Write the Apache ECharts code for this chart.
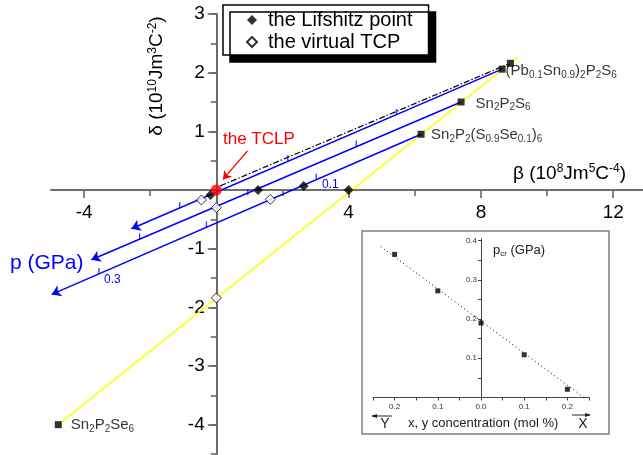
<!DOCTYPE html>
<html>
<head>
<meta charset="utf-8">
<script src="https://cdn.jsdelivr.net/npm/echarts@6/dist/echarts.min.js"></script>
<style>
html, body { margin: 0; padding: 0; background: #fff; }
#chart { width: 643px; height: 455px; }
</style>
</head>
<body>
<div id="chart"></div>
<script>
var FONT = '"Liberation Sans", Arial, sans-serif';
var BLUE = '#0000ff';
var AXIS = '#666666';

// main plot: compounds on the yellow line (beta, delta)
var compoundLabels = [
    '{n|(Pb}{s|0.1}{n|Sn}{s|0.9}{n|)}{s|2}{n|P}{s|2}{n|S}{s|6}',
    '{n|Sn}{s|2}{n|P}{s|2}{n|S}{s|6}',
    '{n|Sn}{s|2}{n|P}{s|2}{n|(S}{s|0.9}{n|Se}{s|0.1}{n|)}{s|6}',
    '{n|Sn}{s|2}{n|P}{s|2}{n|Se}{s|6}'
];
var compoundBeta = [8.64, 7.40, 6.19, -4.78];
var compoundDelta = [2.06, 1.50, 0.95, -4.00];
var extraSquare = [8.89, 2.16];

// yellow line and dash-dot line end points
var yellowLine = [[-4.78, -4.00], [9.11, 2.26]];
var dashDotLine = [[0.12, 0.07], [8.80, 2.14]];

// blue pressure lines: start (p = 0) and arrow end
var pLineStart = [[8.64, 2.06], [7.40, 1.50], [6.19, 0.95]];
var pLineEnd = [[-2.57, -0.66], [-3.78, -1.19], [-4.98, -1.78]];
// 0.1 GPa tick marks on the blue lines
var pTickBeta = [5.44, 2.16, -1.11, 4.23, 0.95, -2.32, 3.02, -0.30, -3.55];
var pTickDelta = [1.28, 0.49, -0.31, 0.74, -0.09, -0.84, 0.175, -0.64, -1.43];

// special points
var lifshitzBeta = [-0.18, 1.26, 2.64, 4.00];
var lifshitzDelta = [-0.085, 0.00, 0.07, 0.00];
var tcpBeta = [-0.45, 0.00, 1.63, 0.00];
var tcpDelta = [-0.17, -0.30, -0.16, -1.84];
var tclp = [0, 0];
var tclpArrow = [[0.94, 0.665], [0.20, 0.18]];

// axis ticks / labels
var xMajorTicks = [-4, 4, 8, 12];
var xMinorTicks = [-2, 2, 6, 10];
var xLabelValues = [-4, 4, 8, 12];
var yLabelValues = [-4, -3, -2, -1, 1, 2, 3];

// inset: p_cr vs concentration
var concX = [-0.2, -0.1, 0.0, 0.1, 0.2];
var pCr = [0.365, 0.272, 0.190, 0.109, 0.021];
var pCrFit = [[-0.232, 0.385], [0.238, 0.0]];
var insetXLabels = [-0.2, -0.1, 0, 0.1, 0.2];
var insetYLabels = [0.1, 0.2, 0.3, 0.4];

// label layout for compound names (distance from square, vertical shift)
var compoundLabelGap = [0, 11, 6.5, 9];
var compoundLabelShift = [2, 1.5, 0.7, 0.5];

var chemRich = {
    n: { fontSize: 15, fontFamily: FONT, color: '#000' },
    s: { fontSize: 10, fontFamily: FONT, color: '#000', padding: [8, 0, 0, 0] }
};

function pairs(xs, ys) {
    return xs.map(function (x, i) { return [x, ys[i]]; });
}

// show a label only if v is in the list
function onlyAt(list, fmt) {
    return function (v) {
        for (var i = 0; i < list.length; i++) {
            if (Math.abs(list[i] - v) < 1e-6) return fmt ? fmt(v) : String(list[i]);
        }
        return '';
    };
}

// main grid geometry and ranges; axes cross at (0, 0)
var main = { left: 51, top: 14, width: 593.4, height: 440, xMin: -5, xMax: 12.9, yMin: -4.5, yMax: 3 };
var inset = { left: 373, top: 238.7, width: 216, height: 158.8, xMin: -0.25, xMax: 0.25, yMin: 0, yMax: 0.405 };
// offsets that move the bottom / left axis to the zero line of the other axis
function xZeroOffset(g) { return -(0 - g.yMin) / (g.yMax - g.yMin) * g.height; }
function yZeroOffset(g) { return -(0 - g.xMin) / (g.xMax - g.xMin) * g.width; }

var axisLineStyle = { color: AXIS, width: 1.6 };
var hidden = { show: false };

var chart = echarts.init(document.getElementById('chart'));

var option = {
    animation: false,
    backgroundColor: '#fff',
    textStyle: { fontFamily: FONT },
    grid: [
        { left: main.left, top: main.top, width: main.width, height: main.height },
        { left: inset.left, top: inset.top, width: inset.width, height: inset.height }
    ],
    xAxis: [
        {
            gridIndex: 0, type: 'value', min: main.xMin, max: main.xMax, interval: 1,
            position: 'bottom', offset: xZeroOffset(main),
            axisLine: { onZero: false, lineStyle: axisLineStyle },
            axisTick: { customValues: xMajorTicks, length: 8, lineStyle: axisLineStyle },
            axisLabel: {
                fontSize: 19, color: '#000', margin: 13, fontFamily: FONT,
                showMinLabel: false, showMaxLabel: false,
                formatter: onlyAt(xLabelValues)
            },
            splitLine: hidden
        },
        {
            gridIndex: 0, type: 'value', min: main.xMin, max: main.xMax,
            position: 'bottom', offset: xZeroOffset(main),
            axisLine: { onZero: false, lineStyle: axisLineStyle },
            axisTick: { customValues: xMinorTicks, length: 6, lineStyle: axisLineStyle },
            axisLabel: hidden, splitLine: hidden
        },
        {
            gridIndex: 1, type: 'value', min: inset.xMin, max: inset.xMax, interval: 0.05, z: 3,
            axisLine: { onZero: false, lineStyle: { color: '#444', width: 1 } },
            axisTick: { length: 3, lineStyle: { color: '#444', width: 1 } },
            axisLabel: {
                fontSize: 8, color: '#333', margin: 5, fontFamily: FONT,
                formatter: onlyAt(insetXLabels, function (v) { return Math.abs(v).toFixed(1); })
            },
            splitLine: hidden
        }
    ],
    yAxis: [
        {
            gridIndex: 0, type: 'value', min: main.yMin, max: main.yMax, interval: 0.5,
            position: 'left', offset: yZeroOffset(main),
            axisLine: { onZero: false, lineStyle: axisLineStyle },
            axisTick: { length: 6, lineStyle: axisLineStyle },
            axisLabel: {
                fontSize: 19, color: '#000', margin: 12, fontFamily: FONT,
                formatter: onlyAt(yLabelValues)
            },
            splitLine: hidden
        },
        {
            gridIndex: 0, type: 'value', min: main.yMin, max: main.yMax,
            position: 'left', offset: yZeroOffset(main),
            axisLine: { onZero: false, lineStyle: axisLineStyle },
            axisTick: { customValues: yLabelValues, length: 9, lineStyle: axisLineStyle },
            axisLabel: hidden, splitLine: hidden
        },
        {
            gridIndex: 1, type: 'value', min: inset.yMin, max: inset.yMax, interval: 0.05, z: 3,
            position: 'left', offset: yZeroOffset(inset),
            axisLine: { onZero: false, lineStyle: { color: '#444', width: 1 } },
            axisTick: { length: 3, lineStyle: { color: '#444', width: 1 } },
            axisLabel: {
                fontSize: 8, color: '#333', margin: 4, fontFamily: FONT,
                showMaxLabel: false,
                formatter: onlyAt(insetYLabels, function (v) { return v.toFixed(1); })
            },
            splitLine: hidden
        }
    ],
    legend: {
        orient: 'vertical', left: 223, top: 5,
        padding: [5, 16, 3, 23],
        itemGap: 2, itemWidth: 10, itemHeight: 10,
        backgroundColor: '#fff', borderColor: '#000', borderWidth: 1.5,
        shadowColor: '#000', shadowBlur: 0, shadowOffsetX: 7, shadowOffsetY: 7,
        textStyle: { fontSize: 20, color: '#000', fontFamily: FONT, lineHeight: 19, padding: [0, 0, 0, 6] },
        data: ['the Lifshitz point', 'the virtual TCP']
    },
    series: [
        {
            type: 'line', xAxisIndex: 0, yAxisIndex: 0, z: 1,
            data: yellowLine, symbol: 'none',
            lineStyle: { color: '#ffff00', width: 1.4 }
        },
        {
            type: 'line', xAxisIndex: 0, yAxisIndex: 0, z: 1,
            data: dashDotLine, symbol: 'none',
            lineStyle: { color: '#000', width: 1.2, type: [6, 2, 1.5, 2] }
        },
        {
            type: 'lines', coordinateSystem: 'cartesian2d', xAxisIndex: 0, yAxisIndex: 0, z: 2,
            symbol: ['none', 'arrow'], symbolSize: 9,
            lineStyle: { color: BLUE, width: 1.5, opacity: 1 },
            data: pLineStart.map(function (s, i) { return { coords: [s, pLineEnd[i]] }; })
        },
        {
            type: 'scatter', xAxisIndex: 0, yAxisIndex: 0, z: 2,
            symbol: 'rect', symbolSize: [1.3, 6], symbolOffset: [0, -3],
            itemStyle: { color: BLUE },
            data: pairs(pTickBeta, pTickDelta)
        },
        {
            type: 'scatter', xAxisIndex: 0, yAxisIndex: 0, z: 3,
            symbol: 'rect', symbolSize: 7,
            itemStyle: { color: '#000' },
            data: compoundBeta.map(function (b, i) {
                return {
                    value: [b, compoundDelta[i]],
                    label: {
                        show: true, position: 'right',
                        distance: compoundLabelGap[i], offset: [0, compoundLabelShift[i]],
                        formatter: compoundLabels[i], rich: chemRich
                    }
                };
            }).concat([{ value: extraSquare }])
        },
        {
            name: 'the Lifshitz point',
            type: 'scatter', xAxisIndex: 0, yAxisIndex: 0, z: 4,
            symbol: 'diamond', symbolSize: 10,
            itemStyle: { color: '#000' },
            data: pairs(lifshitzBeta, lifshitzDelta)
        },
        {
            name: 'the virtual TCP',
            type: 'scatter', xAxisIndex: 0, yAxisIndex: 0, z: 4,
            symbol: 'diamond', symbolSize: 10,
            itemStyle: { color: '#fff', borderColor: '#000', borderWidth: 1 },
            data: pairs(tcpBeta, tcpDelta)
        },
        {
            type: 'scatter', xAxisIndex: 0, yAxisIndex: 0, z: 5,
            symbol: 'circle', symbolSize: 11,
            itemStyle: { color: '#ff0000' },
            data: [tclp],
            markLine: {
                silent: true, symbol: ['none', 'arrow'], symbolSize: 8,
                lineStyle: { color: '#ff0000', width: 1.2, type: 'solid' },
                label: { show: false },
                data: [[{ coord: tclpArrow[0] }, { coord: tclpArrow[1] }]]
            }
        },
        {
            type: 'line', xAxisIndex: 2, yAxisIndex: 2, z: 4,
            data: pCrFit, symbol: 'none',
            lineStyle: { color: '#000', width: 1, type: [1, 3] }
        },
        {
            type: 'scatter', xAxisIndex: 2, yAxisIndex: 2, z: 5,
            symbol: 'rect', symbolSize: 5,
            itemStyle: { color: '#000' },
            data: pairs(concX, pCr)
        }
    ],
    graphic: [
        {
            type: 'rect', z: 1,
            shape: { x: 362, y: 231, width: 247, height: 203 },
            style: { fill: '#fff', stroke: '#808080', lineWidth: 1.5 }
        },
        {
            type: 'text', z: 10, x: 157, y: 76, rotation: Math.PI / 2,
            style: {
                text: '{m|\u03b4 (10}{u|10}{m|Jm}{u|3}{m|C}{u|-2}{m|)}',
                align: 'center', verticalAlign: 'middle', textAlign: 'center', textVerticalAlign: 'middle',
                fill: '#000',
                rich: {
                    m: { fontSize: 19, fontFamily: FONT, fill: '#000' },
                    u: { fontSize: 12, fontFamily: FONT, fill: '#000', padding: [0, 0, 9, 0] }
                }
            }
        },
        {
            type: 'text', z: 10, x: 513, y: 173.5,
            style: {
                text: '{m|\u03b2 (10}{u|8}{m|Jm}{u|5}{m|C}{u|-4}{m|)}',
                align: 'left', verticalAlign: 'middle', textAlign: 'left', textVerticalAlign: 'middle',
                fill: '#000',
                rich: {
                    m: { fontSize: 19, fontFamily: FONT, fill: '#000' },
                    u: { fontSize: 12, fontFamily: FONT, fill: '#000', padding: [0, 0, 9, 0] }
                }
            }
        },
        {
            type: 'text', z: 10, x: 223, y: 139,
            style: { text: 'the TCLP', font: '17px ' + FONT, fill: '#ff0000', verticalAlign: 'middle', textVerticalAlign: 'middle' }
        },
        {
            type: 'text', z: 10, x: 10, y: 263,
            style: { text: 'p (GPa)', font: '21px ' + FONT, fill: BLUE, verticalAlign: 'middle', textVerticalAlign: 'middle' }
        },
        {
            type: 'text', z: 10, x: 322, y: 185,
            style: { text: '0.1', font: '12px ' + FONT, fill: BLUE, verticalAlign: 'middle', textVerticalAlign: 'middle' }
        },
        {
            type: 'text', z: 10, x: 104, y: 280,
            style: { text: '0.3', font: '12px ' + FONT, fill: BLUE, verticalAlign: 'middle', textVerticalAlign: 'middle' }
        },
        {
            type: 'text', z: 10, x: 493, y: 250,
            style: {
                text: '{a|p}{b|cr}{a| (GPa)}', verticalAlign: 'middle', textVerticalAlign: 'middle', fill: '#222',
                rich: {
                    a: { fontSize: 13, fontFamily: FONT, fill: '#222' },
                    b: { fontSize: 8, fontFamily: FONT, fill: '#222', padding: [7, 0, 0, 0] }
                }
            }
        },
        {
            type: 'text', z: 10, x: 408, y: 423,
            style: { text: 'x, y concentration (mol %)', font: '13px ' + FONT, fill: '#222', verticalAlign: 'middle', textVerticalAlign: 'middle' }
        },
        {
            type: 'text', z: 10, x: 385, y: 424,
            style: { text: 'Y', font: '14px ' + FONT, fill: '#222', align: 'center', textAlign: 'center', verticalAlign: 'middle', textVerticalAlign: 'middle' }
        },
        {
            type: 'text', z: 10, x: 583, y: 424,
            style: { text: 'X', font: '14px ' + FONT, fill: '#222', align: 'center', textAlign: 'center', verticalAlign: 'middle', textVerticalAlign: 'middle' }
        },
        {
            type: 'line', z: 10,
            shape: { x1: 372, y1: 416, x2: 392, y2: 416 },
            style: { stroke: '#222', lineWidth: 1 }
        },
        {
            type: 'polygon', z: 10,
            shape: { points: [[371, 416], [377, 414], [377, 418]] },
            style: { fill: '#222' }
        },
        {
            type: 'line', z: 10,
            shape: { x1: 572, y1: 415, x2: 590, y2: 415 },
            style: { stroke: '#222', lineWidth: 1 }
        },
        {
            type: 'polygon', z: 10,
            shape: { points: [[591, 415], [585, 413], [585, 417]] },
            style: { fill: '#222' }
        }
    ]
};

chart.setOption(option);
</script>
</body>
</html>
